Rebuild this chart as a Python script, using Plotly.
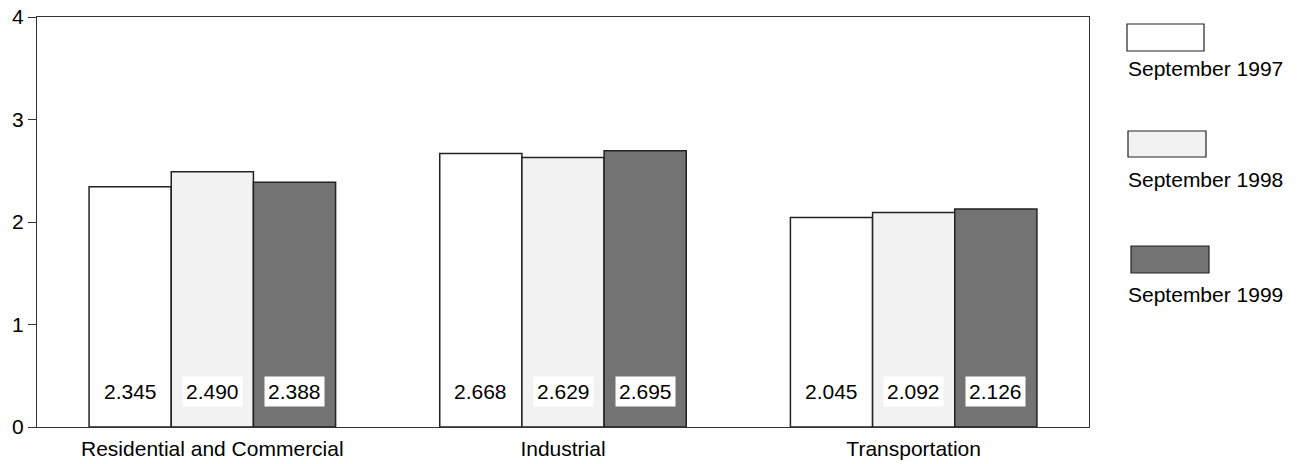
import plotly.graph_objects as go

categories = ["Residential and Commercial", "Industrial", "Transportation"]
series_names = ["September 1997", "September 1998", "September 1999"]
sep_1997 = [2.345, 2.668, 2.045]
sep_1998 = [2.490, 2.629, 2.092]
sep_1999 = [2.388, 2.695, 2.126]
series_values = [sep_1997, sep_1998, sep_1999]
colors = ["#ffffff", "#f2f2f2", "#737373"]

FONT = "Arial, Liberation Sans, sans-serif"
FS = 21

W, H = 1297, 464
plot_l, plot_r, plot_t, plot_b = 37, 1089, 17, 427  # page coords
L, T, R, B = plot_l, plot_t, W - plot_r, H - plot_b
pw, ph = plot_r - plot_l, plot_b - plot_t

fig = go.Figure()
for name, vals, col in zip(series_names, series_values, colors):
    fig.add_trace(go.Bar(
        x=categories, y=vals, name=name,
        marker=dict(color=col, line=dict(color="#222222", width=1.5)),
        showlegend=False,
    ))

bargap = 0.297
bar_px = pw / len(categories) * (1 - bargap) / 3

annotations = []
for i, vals in enumerate(series_values):
    for c, v in zip(categories, vals):
        annotations.append(dict(
            x=c, y=0.35, xref="x", yref="y",
            text=f"{v:.3f}", showarrow=False,
            xshift=(i - 1) * bar_px,
            bgcolor="#ffffff", borderpad=3,
            font=dict(family=FONT, size=FS, color="#000000"),
        ))

def px2paper_x(px):
    return (px - plot_l) / pw

def px2paper_y(py):
    return (plot_b - py) / ph

legend_boxes = [(1127, 24, 1204, 51), (1128, 131, 1206, 157), (1131, 246, 1209, 273)]
legend_label_y = [68, 179, 294]
shapes = []
for (x0, y0, x1, y1), ly, name, col in zip(legend_boxes, legend_label_y, series_names, colors):
    shapes.append(dict(
        type="rect", xref="paper", yref="paper",
        x0=px2paper_x(x0), x1=px2paper_x(x1),
        y0=px2paper_y(y1), y1=px2paper_y(y0),
        fillcolor=col, line=dict(color="#222222", width=1.2),
    ))
    annotations.append(dict(
        x=px2paper_x(1126), y=px2paper_y(ly), xref="paper", yref="paper",
        xanchor="left", yanchor="middle", text=name, showarrow=False,
        font=dict(family=FONT, size=FS, color="#000000"),
    ))

fig.update_layout(
    width=W, height=H,
    margin=dict(l=L, r=R, t=T, b=B, pad=0, autoexpand=False),
    paper_bgcolor="#ffffff", plot_bgcolor="#ffffff",
    barmode="group", bargap=bargap, bargroupgap=0,
    font=dict(family=FONT, size=FS, color="#000000"),
    annotations=annotations, shapes=shapes,
    showlegend=False,
)
fig.update_yaxes(
    range=[0, 4], dtick=1, showgrid=False, zeroline=False, automargin=False,
    showline=True, linecolor="#333333", linewidth=1, mirror=True,
    ticks="outside", ticklen=8, tickcolor="#333333",
    ticklabeloverflow="allow",
    tickfont=dict(family=FONT, size=FS, color="#000000"),
)
fig.update_xaxes(
    showgrid=False, showline=True, linecolor="#333333", linewidth=1, mirror=True,
    ticks="", automargin=False, ticklabelstandoff=3,
    tickfont=dict(family=FONT, size=FS, color="#000000"),
)

fig.write_html(
    "out.html",
    config={"displayModeBar": False},
    post_script="document.body.style.margin='0';document.body.style.overflow='hidden';",
)
